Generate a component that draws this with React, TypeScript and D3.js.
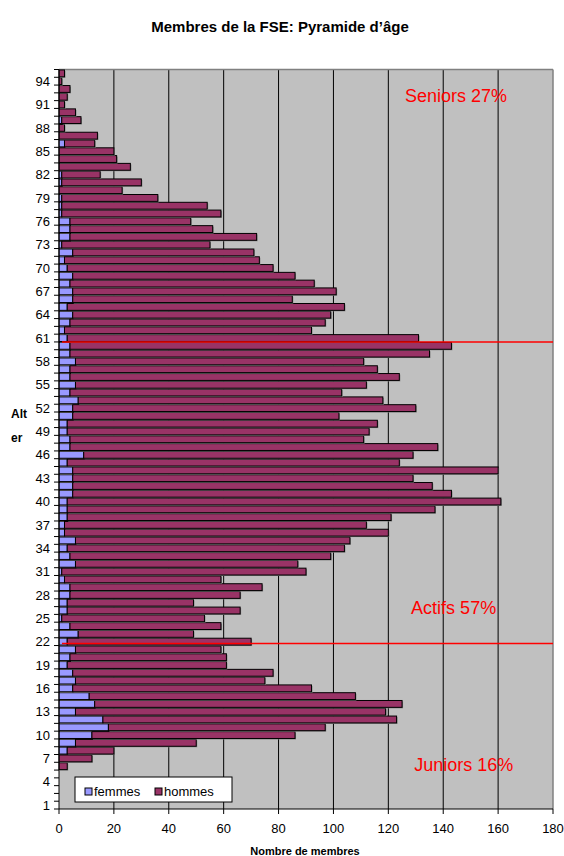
import React from "react";
import * as d3 from "d3";

const ages: number[] = d3.range(1, 96);
const femmes: number[] = [
  0, 0, 0, 0, 0, 0, 0, 3, 6, 12, 18, 16, 6, 13, 11, 5, 6, 5, 3, 4,
  6, 3, 7, 4, 1, 3, 3, 4, 4, 2, 1, 6, 4, 3, 6, 2, 2, 3, 3, 3,
  5, 5, 5, 5, 3, 9, 4, 4, 3, 3, 5, 5, 7, 4, 6, 4, 4, 6, 4, 4,
  3, 2, 4, 5, 3, 5, 5, 4, 5, 3, 2, 5, 1, 4, 4, 4, 1, 1, 1, 0,
  1, 1, 0, 0, 0, 2, 0, 0, 1, 0, 0, 0, 0, 0, 0,
];
const hommes: number[] = [
  0, 0, 0, 0, 0, 3, 12, 17, 44, 74, 79, 107, 113, 112, 97, 87, 69, 73, 58, 57,
  53, 67, 42, 55, 52, 63, 46, 62, 70, 57, 89, 81, 95, 101, 100, 118, 110, 118, 134, 158,
  138, 131, 124, 155, 121, 120, 134, 107, 110, 113, 97, 125, 111, 99, 106, 120, 112, 105, 131, 139,
  128, 90, 93, 94, 101, 80, 96, 89, 81, 75, 71, 66, 54, 68, 52, 44, 58, 53, 35, 23,
  29, 14, 26, 21, 20, 11, 14, 2, 7, 6, 2, 3, 4, 1, 2,
];
const xTicks: number[] = [0, 20, 40, 60, 80, 100, 120, 140, 160, 180];
const yTickLabels: number[] = d3.range(1, 96, 3);
const seriesNames: string[] = ["femmes", "hommes"];
const colors: string[] = ["#9999FF", "#993366"];
const title = "Membres de la FSE: Pyramide d\u2019\u00e2ge";
const xTitle = "Nombre de membres";
const annotations = [
  { text: "Seniors 27%", age: 92.1, value: 126.1 },
  { text: "Actifs 57%", age: 26.4, value: 128.3 },
  { text: "Juniors 16%", age: 6.2, value: 129.4 },
];

const FONT = "'Liberation Sans', Arial, Helvetica, sans-serif";

export default function App() {
  const W = 564;
  const H = 856;
  const left = 59;
  const right = 553;
  const top = 69.5;
  const bottom = 809;

  const x = d3.scaleLinear().domain([0, 180]).range([left, right]);
  const y = d3
    .scaleBand<number>()
    .domain([...ages].reverse())
    .range([top, bottom])
    .paddingInner(0.12)
    .paddingOuter(0.06);
  const step = y.step();
  const bw = y.bandwidth();
  const yAt = (a: number) => top + (95.5 - a) * step;

  const stacked = d3
    .stack<number>()
    .keys(["0", "1"])
    .value((i, k) => (k === "0" ? femmes[i] : hommes[i]))(ages.map((_, i) => i));

  const boundaries = d3.range(0, ages.length + 1).map((k) => top + k * step);
  const line1 = (y(61) as number) + bw + (step - bw) / 2;
  const line2 = (y(22) as number) + bw * 0.78;

  return (
    <div style={{ position: "absolute", left: 0, top: 0 }}>
      <svg width={W} height={H} style={{ display: "block", background: "#fff" }} fontFamily={FONT}>
        <text x={280} y={32} textAnchor="middle" fontWeight="bold" fontSize={15}>
          {title}
        </text>
        <rect x={left} y={top} width={right - left} height={bottom - top} fill="#C0C0C0" />
        {xTicks.slice(1, -1).map((t) => (
          <line key={"g" + t} x1={x(t)} x2={x(t)} y1={top} y2={bottom} stroke="#000" strokeWidth={1} />
        ))}
        <line x1={left} x2={right} y1={top} y2={top} stroke="#808080" strokeWidth={1.5} />
        <line x1={right} x2={right} y1={top} y2={bottom} stroke="#808080" strokeWidth={1.5} />
        {stacked.map((layer, li) =>
          layer.map((d, i) => {
            const v = d[1] - d[0];
            if (v <= 0) return null;
            const yy = y(ages[i]) as number;
            return (
              <g key={li + "-" + i}>
                <rect x={x(d[0]) + 1} y={yy + 1} width={x(d[1]) - x(d[0])} height={bw} fill="#808080" />
                <rect
                  x={x(d[0])}
                  y={yy}
                  width={x(d[1]) - x(d[0])}
                  height={bw}
                  fill={colors[li]}
                  stroke="#000"
                  strokeWidth={1}
                />
              </g>
            );
          })
        )}
        <line x1={left} x2={left} y1={top} y2={bottom} stroke="#000" strokeWidth={1} />
        <line x1={left} x2={right} y1={bottom} y2={bottom} stroke="#000" strokeWidth={1} />
        {boundaries.map((b, k) => (
          <line key={"yt" + k} x1={left - 5} x2={left} y1={b} y2={b} stroke="#000" strokeWidth={1} />
        ))}
        {yTickLabels.map((a) => (
          <text
            key={"yl" + a}
            x={50}
            y={(y(a) as number) + bw / 2}
            dy="0.36em"
            textAnchor="end"
            fontSize={13}
          >
            {a}
          </text>
        ))}
        {xTicks.map((t) => (
          <g key={"xt" + t}>
            <line x1={x(t)} x2={x(t)} y1={bottom} y2={bottom + 5} stroke="#000" strokeWidth={1} />
            <text x={x(t)} y={833} textAnchor="middle" fontSize={13}>
              {t}
            </text>
          </g>
        ))}
        <text x={305} y={855} textAnchor="middle" fontWeight="bold" fontSize={11}>
          {xTitle}
        </text>
        <text x={11} y={418} fontWeight="bold" fontSize={12}>
          Alt
        </text>
        <text x={11} y={442} fontWeight="bold" fontSize={12}>
          er
        </text>
        <line x1={62} x2={right} y1={line1} y2={line1} stroke="#FF0000" strokeWidth={1.5} />
        <line x1={62} x2={right} y1={line2} y2={line2} stroke="#FF0000" strokeWidth={1.5} />
        {annotations.map((a) => (
          <text key={a.text} x={x(a.value)} y={yAt(a.age)} dy="0.36em" fill="#FF0000" fontSize={18}>
            {a.text}
          </text>
        ))}
        <g>
          <rect x={75} y={777} width={157} height={25} fill="#fff" stroke="#000" strokeWidth={1} />
          {seriesNames.map((s, i) => (
            <g key={s} transform={`translate(${85 + i * 70},0)`}>
              <rect x={0} y={788} width={7} height={7} fill={colors[i]} stroke="#000" strokeWidth={1} />
              <text x={9} y={796} fontSize={13}>
                {s}
              </text>
            </g>
          ))}
        </g>
      </svg>
    </div>
  );
}
